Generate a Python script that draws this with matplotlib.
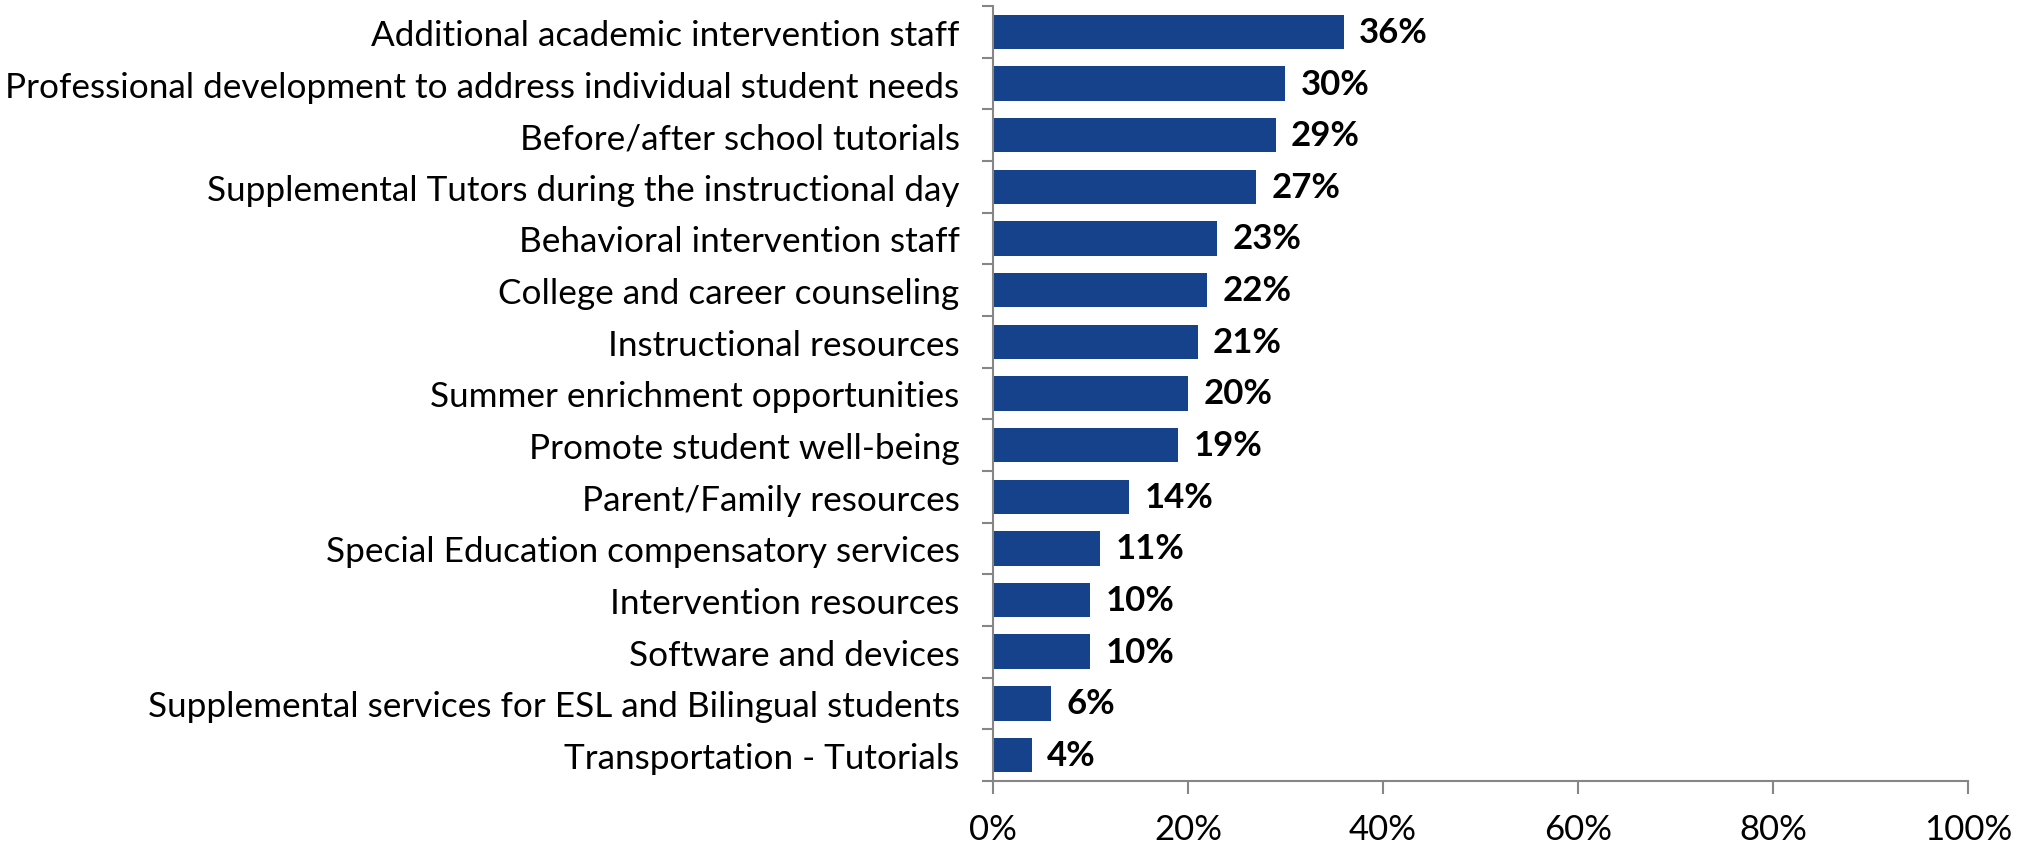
import numpy as np
import matplotlib
matplotlib.use("Agg")
import matplotlib.pyplot as plt
from matplotlib.ticker import FixedLocator, PercentFormatter

plt.rcParams['font.family'] = ['Lato', 'DejaVu Sans']

categories = [
    "Additional academic intervention staff",
    "Professional development to address individual student needs",
    "Before/after school tutorials",
    "Supplemental Tutors during the instructional day",
    "Behavioral intervention staff",
    "College and career counseling",
    "Instructional resources",
    "Summer enrichment opportunities",
    "Promote student well-being",
    "Parent/Family resources",
    "Special Education compensatory services",
    "Intervention resources",
    "Software and devices",
    "Supplemental services for ESL and Bilingual students",
    "Transportation - Tutorials",
]
values = [36, 30, 29, 27, 23, 22, 21, 20, 19, 14, 11, 10, 10, 6, 4]
xticks = [0, 20, 40, 60, 80, 100]

bar_color = '#15428A'
axis_color = '#868686'

fig = plt.figure(figsize=(20.28, 8.45), dpi=100)
ax = fig.add_axes([0.4896, 0.0746, 0.4808, 0.9171])

y = np.arange(len(categories))
ax.barh(y, values, height=0.67, color=bar_color)

for yi, v in zip(y, values):
    ax.annotate(f"{v}%", (v, yi), xytext=(11, 0), textcoords='offset points',
                ha='left', va='center', fontsize=25, fontweight='bold')

ax.set_xlim(0, 100)
ax.set_ylim(len(categories) - 0.5, -0.5)

ax.set_yticks(y)
ax.set_yticklabels(categories, fontsize=25.3)
ax.tick_params(axis='y', which='major', length=0, pad=24)
ax.yaxis.set_minor_locator(FixedLocator(np.arange(len(categories) + 1) - 0.5))
ax.tick_params(axis='y', which='minor', length=8, width=1.5, color=axis_color, direction='out')

ax.set_xticks(xticks)
ax.xaxis.set_major_formatter(PercentFormatter(decimals=0))
ax.tick_params(axis='x', length=9, width=1.5, color=axis_color, labelsize=25, pad=14)

for s in ['top', 'right']:
    ax.spines[s].set_visible(False)
for s in ['left', 'bottom']:
    ax.spines[s].set_color(axis_color)
    ax.spines[s].set_linewidth(1.5)

fig.savefig("out.png", dpi=100)
